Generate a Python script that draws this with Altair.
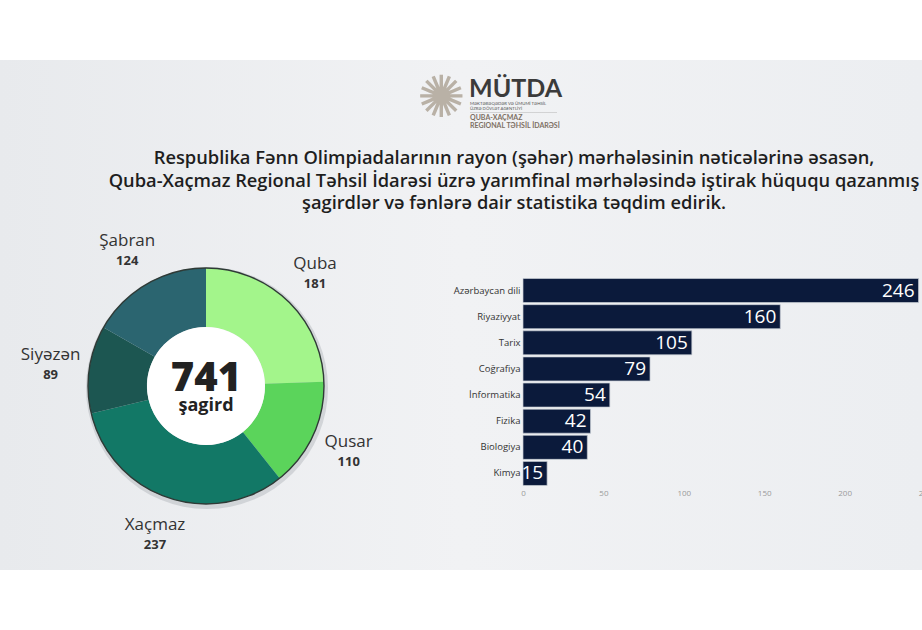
import altair as alt
import pandas as pd

# ---------------- data ----------------
regions = ["Quba", "Qusar", "Xaçmaz", "Siyəzən", "Şabran"]
region_counts = [181, 110, 237, 89, 124]
region_colors = ["#a3f58b", "#5bd45b", "#127866", "#1c5651", "#2b6570"]

subjects = ["Azərbaycan dili", "Riyaziyyat", "Tarix", "Coğrafiya",
            "İnformatika", "Fizika", "Biologiya", "Kimya"]
subject_counts = [246, 160, 105, 79, 54, 42, 40, 15]
x_ticks = [0, 50, 100, 150, 200, 250]

title_lines = [
    "Respublika Fənn Olimpiadalarının rayon (şəhər) mərhələsinin nəticələrinə əsasən,",
    "Quba-Xaçmaz Regional Təhsil İdarəsi üzrə yarımfinal mərhələsində iştirak hüququ qazanmış",
    "şagirdlər və fənlərə dair statistika təqdim edirik.",
]
center_unit = "şagird"
logo_name = "MÜTDA"
logo_sub = ["MƏKTƏBƏQƏDƏR VƏ ÜMUMİ TƏHSİL", "ÜZRƏ DÖVLƏT AGENTLİYİ"]
logo_office = ["QUBA-XAÇMAZ", "REGIONAL TƏHSİL İDARƏSİ"]

FONT = "Open Sans"
LOGO_FONT = "Lato"
W, H = 922, 630
CX, CY = 206, 386
R_OUT, R_IN = 118, 59

reg_df = pd.DataFrame({"region": regions, "n": region_counts,
                       "idx": list(range(len(regions)))})
sub_df = pd.DataFrame({"subject": subjects, "n": subject_counts})
one = alt.Data(values=[{"k": 1}])


def label(text, x, y, **kw):
    return alt.Chart(one).mark_text(text=text, **kw).encode(x=alt.value(x), y=alt.value(y))


# ---------------- decoration ----------------
band = alt.Chart(one).mark_rect(
    color=alt.LinearGradient(
        gradient="linear", x1=0, y1=0, x2=1, y2=0,
        stops=[alt.GradientStop(color="#e8eaed", offset=0),
               alt.GradientStop(color="#f1f2f4", offset=0.5),
               alt.GradientStop(color="#eceef1", offset=1)])
).encode(x=alt.value(0), x2=alt.value(W), y=alt.value(60), y2=alt.value(570))

# ---------------- title / logo ----------------
tkw = dict(font=FONT, fontSize=18.3, fontWeight=600, color="#1e1e1e",
           align="center", baseline="alphabetic")
title_layers = [label(t, 514, y, **tkw) for t, y in zip(title_lines, [164, 187, 209])]

logo_layers = [
    label("✺", 441, 100, fontSize=58, color="#b9b1a6", align="center", baseline="middle"),
    label(logo_name, 469, 97, font=LOGO_FONT, fontSize=25, fontWeight="bold", color="#3b3b3b",
          align="left", baseline="alphabetic"),
    label(logo_sub[0], 470, 104, font=LOGO_FONT, fontSize=4.3, color="#555555", align="left"),
    label(logo_sub[1], 470, 109, font=LOGO_FONT, fontSize=4.3, color="#555555", align="left"),
    alt.Chart(one).mark_rule(color="#bdbdbd", strokeWidth=0.6).encode(
        x=alt.value(470), x2=alt.value(557), y=alt.value(112.5)),
    label(logo_office[0], 470, 118, font=LOGO_FONT, fontSize=7, fontWeight="bold",
          color="#7d7064", align="left"),
    label(logo_office[1], 470, 126, font=LOGO_FONT, fontSize=7, fontWeight="bold",
          color="#7d7064", align="left"),
]

# ---------------- donut ----------------
base = alt.Chart(reg_df).encode(
    theta=alt.Theta("n:Q", stack=True),
    order=alt.Order("idx:Q", sort="ascending"),
    color=alt.Color("region:N", scale=alt.Scale(domain=regions, range=region_colors), legend=None),
    x=alt.value(CX), y=alt.value(CY),
)
shadow = alt.Chart(one).mark_point(
    shape="circle", filled=True, color="#9ea3a8", opacity=0.35, size=(2 * R_OUT + 6) ** 2
).encode(x=alt.value(CX + 1), y=alt.value(CY + 2))
arcs = base.mark_arc(innerRadius=R_IN, outerRadius=R_OUT)
hole = alt.Chart(one).mark_point(
    shape="circle", filled=True, color="white", opacity=1, size=(2 * R_IN) ** 2
).encode(x=alt.value(CX), y=alt.value(CY))
ring = alt.Chart(one).mark_point(
    shape="circle", filled=False, color="#2f3a36", strokeWidth=1.4, opacity=1, size=(2 * R_OUT) ** 2
).encode(x=alt.value(CX), y=alt.value(CY))
lbl_name = base.mark_text(radius=157, dy=-9, font=FONT, fontSize=17).encode(
    text="region:N", color=alt.value("#333333"))
lbl_val = base.mark_text(radius=157, dy=11, font=FONT, fontSize=13, fontWeight="bold").encode(
    text="n:Q", color=alt.value("#333333"))
total = alt.Chart(reg_df).transform_aggregate(total="sum(n)").mark_text(
    font=FONT, fontSize=40, fontWeight=800, color="#222222", align="center", baseline="alphabetic"
).encode(x=alt.value(CX), y=alt.value(391), text="total:Q")
unit = label(center_unit, CX, 411, font=FONT, fontSize=18, fontWeight="bold", color="#222222",
             align="center", baseline="alphabetic")

# ---------------- bars ----------------
xs = alt.Scale(domain=[0, 250], range=[523, 925], nice=False, zero=True)
ys = alt.Scale(domain=subjects, range=[278, 486], paddingInner=0.08, paddingOuter=0.02)
bars = alt.Chart(sub_df).mark_bar(color="#0b1a3b", stroke="#c9ced6", strokeWidth=0.7).encode(
    x=alt.X("n:Q", scale=xs, axis=alt.Axis(
        values=x_ticks, labelFlush=False, domain=False, ticks=False, grid=False,
        labelColor="#9a9a9a", labelFontSize=8, labelFont=FONT, labelPadding=0,
        offset=-141, title=None, zindex=2)),
    y=alt.Y("subject:N", scale=ys, sort=subjects, axis=alt.Axis(
        domain=False, ticks=False, grid=False, labelColor="#333333", labelFontSize=9.5,
        labelFont=FONT, labelPadding=3, offset=-523, title=None, zindex=2)),
)
bar_txt = alt.Chart(sub_df).mark_text(
    align="right", baseline="middle", dx=-4, font=FONT, fontSize=19, fontWeight=500, color="white"
).encode(x=alt.X("n:Q", scale=xs), y=alt.Y("subject:N", scale=ys, sort=subjects), text="n:Q")

chart = alt.layer(
    band, *title_layers, *logo_layers,
    shadow, arcs, hole, ring, lbl_name, lbl_val, total, unit, bars, bar_txt
).properties(
    width=W, height=H, padding=0, autosize=alt.AutoSizeParams(type="none"), background="white"
).configure_view(stroke=None)

chart.save("out.html", embed_options={"renderer": "svg", "actions": False})
